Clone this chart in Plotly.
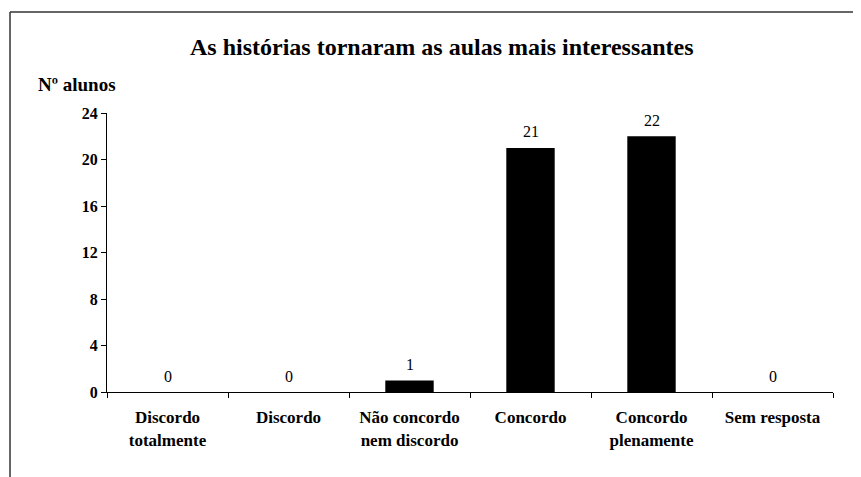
import plotly.graph_objects as go

categories = ["Discordo<br>totalmente", "Discordo", "Não concordo<br>nem discordo",
              "Concordo", "Concordo<br>plenamente", "Sem resposta"]
values = [0, 0, 1, 21, 22, 0]
y_ticks = [0, 4, 8, 12, 16, 20, 24]
title_text = "As histórias tornaram as aulas mais interessantes"
y_label = "Nº alunos"

FONT = "Liberation Serif, serif"
OFF = 8  # page body margin
W, H = 861 - OFF, 477 - OFF
L, T = 107 - OFF, 113 - OFF
R = W - (833 - OFF)
B = H - (392 - OFF)
pw, ph = W - L - R, H - T - B

fig = go.Figure()
fig.add_trace(go.Bar(x=categories, y=values, width=0.4,
                     marker=dict(color="black", line=dict(width=0))))

for c, v in zip(categories, values):
    fig.add_annotation(x=c, y=v, text=str(v), showarrow=False, xref="x", yref="y",
                       yanchor="middle", yshift=16,
                       font=dict(family=FONT, size=16, color="black"))

def px_x(p):
    return (p - OFF - L) / pw

def px_y(p):
    return 1 - (p - OFF - T) / ph

# chart border (left and top edges visible)
fig.add_shape(type="line", xref="paper", yref="paper",
              x0=px_x(10), x1=px_x(10), y0=px_y(12), y1=px_y(500),
              line=dict(color="#333333", width=1.5))
fig.add_shape(type="line", xref="paper", yref="paper",
              x0=px_x(10), x1=px_x(900), y0=px_y(12), y1=px_y(12),
              line=dict(color="#333333", width=1.5))

fig.add_annotation(text=f"<b>{title_text}</b>", xref="paper", yref="paper",
                   x=px_x(442), y=px_y(47), xanchor="center", yanchor="middle",
                   showarrow=False, font=dict(family=FONT, size=24, color="black"))
fig.add_annotation(text=f"<b>{y_label}</b>", xref="paper", yref="paper",
                   x=px_x(36), y=px_y(85), xanchor="left", yanchor="middle",
                   showarrow=False, font=dict(family=FONT, size=19, color="black"))

fig.update_layout(
    width=W, height=H,
    margin=dict(l=L, r=R, t=T, b=B, autoexpand=False),
    paper_bgcolor="white", plot_bgcolor="white",
    showlegend=False,
    xaxis=dict(type="category", tickson="boundaries", ticks="outside", ticklen=5,
               tickcolor="black", showline=True, linecolor="black", linewidth=1,
               showgrid=False,
               tickfont=dict(family=FONT, size=17, color="black", weight="bold"),
               ticklabelstandoff=10),
    yaxis=dict(range=[0, 24], tickvals=y_ticks, ticks="outside", ticklen=5,
               tickcolor="black", showline=True, linecolor="black", linewidth=1,
               showgrid=False, zeroline=False,
               tickfont=dict(family=FONT, size=16, color="black", weight="bold")),
)

fig.write_html("out.html")
